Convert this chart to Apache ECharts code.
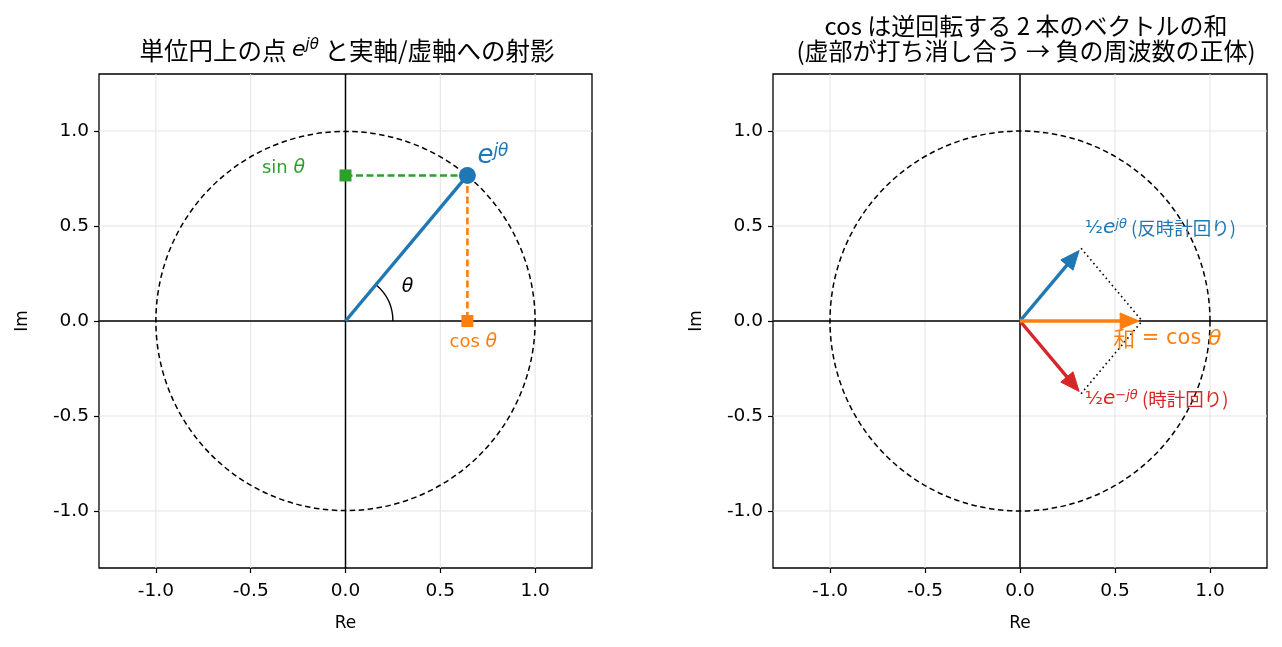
<!DOCTYPE html>
<html>
<head>
<meta charset="utf-8">
<script src="https://cdn.jsdelivr.net/npm/echarts@6/dist/echarts.min.js"></script>
<style>
html,body{margin:0;padding:0;background:#fff;}
#chart{width:1282px;height:647px;}
</style>
</head>
<body>
<div id="chart"></div>
<script>
// ---------- data ----------
const thetaDeg = 50;                       // angle
const tickValues = [-1.0, -0.5, 0.0, 0.5, 1.0];
const axisRange = [-1.3, 1.3];
const unitRadius = 1.0;
const arcRadius = 0.25;
const halfFactor = 0.5;

const theta = thetaDeg * Math.PI / 180;
const cosT = Math.cos(theta), sinT = Math.sin(theta);
const pointE = [cosT, sinT];
const projCos = [cosT, 0];
const projSin = [0, sinT];
const halfPlus = [halfFactor * cosT, halfFactor * sinT];
const halfMinus = [halfFactor * cosT, -halfFactor * sinT];
const sumVec = [cosT, 0];

// ---------- styles ----------
const C = {blue:'#1f77b4', orange:'#ff7f0e', green:'#2ca02c', red:'#d62728', k:'#000', grid:'#e3e3e3'};
const FONT = '"Noto Sans CJK JP", "Noto Sans", sans-serif';
const MATH = '"DejaVu Sans", sans-serif';
const LATIN = '"DejaVu Sans", sans-serif';

function axisPair(idx) {
  const common = {
    type:'value', min: axisRange[0], max: axisRange[1], gridIndex: idx,
    axisLine:{show:false, onZero:false},
    splitLine:{show:false},
    axisTick:{show:true, inside:false, length:5, customValues: tickValues, lineStyle:{color:'#000', width:1.2}},
    axisLabel:{show:true, customValues: tickValues, formatter: v => v.toFixed(1),
               fontFamily: LATIN, fontSize: 18.5, color:'#000', margin: 14}
  };
  return {
    x: Object.assign({}, common, {name:'Re', nameLocation:'middle', nameGap: 47,
        nameTextStyle:{fontFamily:LATIN, fontSize:17, color:'#000'}}),
    y: Object.assign({}, common, {name:'Im', nameLocation:'middle', nameGap: 68,
        nameTextStyle:{fontFamily:LATIN, fontSize:17, color:'#000'},
        axisLabel: Object.assign({}, common.axisLabel, {margin: 10})})
  };
}

// grid lines + zero lines
function gridLinesSeries(idx) {
  return {
    type:'custom', xAxisIndex: idx, yAxisIndex: idx, silent:true, z:1,
    data: tickValues.map(v => [v, v]),
    encode:{x:0, y:1},
    renderItem(params, api) {
      const cs = params.coordSys;
      const v = api.value(0);
      const p = api.coord([v, v]);
      const children = [
        {type:'line', shape:{x1:p[0], y1:cs.y, x2:p[0], y2:cs.y+cs.height}, style:{stroke:C.grid, lineWidth:1}},
        {type:'line', shape:{x1:cs.x, y1:p[1], x2:cs.x+cs.width, y2:p[1]}, style:{stroke:C.grid, lineWidth:1}}
      ];
      if (v === 0) {
        children.push({type:'line', z2:5, shape:{x1:p[0], y1:cs.y, x2:p[0], y2:cs.y+cs.height}, style:{stroke:'#000', lineWidth:1.5}});
        children.push({type:'line', z2:5, shape:{x1:cs.x, y1:p[1], x2:cs.x+cs.width, y2:p[1]}, style:{stroke:'#000', lineWidth:1.5}});
      }
      return {type:'group', children};
    }
  };
}

function circleSeries(idx) {
  return {
    type:'custom', xAxisIndex: idx, yAxisIndex: idx, silent:true, z:2,
    data: [[0, 0, unitRadius]],
    encode:{x:0, y:1},
    renderItem(params, api) {
      const c = api.coord([api.value(0), api.value(1)]);
      const r = api.size([api.value(2), 0])[0];
      return {type:'circle', shape:{cx:c[0], cy:c[1], r}, style:{fill:null, stroke:'#000', lineWidth:1.5, lineDash:[5.5,3.5]}};
    }
  };
}

function segSeries(idx, a, b, color, width, dash, z) {
  return {
    type:'line', xAxisIndex: idx, yAxisIndex: idx, silent:true, z: z || 3,
    data:[a, b], symbol:'none', animation:false,
    lineStyle:{color, width, type: dash || 'solid', opacity:1}
  };
}

function arrowSeries(idx, from, to, color, z) {
  return {
    type:'custom', xAxisIndex: idx, yAxisIndex: idx, silent:true, z: z || 4,
    data:[[from[0], from[1], to[0], to[1]]],
    encode:{x:[0,2], y:[1,3]},
    renderItem(params, api) {
      const p0 = api.coord([api.value(0), api.value(1)]);
      let p1 = api.coord([api.value(2), api.value(3)]);
      const dx = p1[0]-p0[0], dy = p1[1]-p0[1];
      const L = Math.hypot(dx, dy);
      const ux = dx/L, uy = dy/L;
      const shrink = 3, headL = 19, headW = 8;
      p1 = [p1[0]-ux*shrink, p1[1]-uy*shrink];
      const base = [p1[0]-ux*headL, p1[1]-uy*headL];
      const nx = -uy, ny = ux;
      return {type:'group', children:[
        {type:'line', shape:{x1:p0[0], y1:p0[1], x2:base[0]+ux*2, y2:base[1]+uy*2}, style:{stroke:color, lineWidth:3.4}},
        {type:'polygon', shape:{points:[p1, [base[0]+nx*headW, base[1]+ny*headW], [base[0]-nx*headW, base[1]-ny*headW]]},
         style:{fill:color, stroke:color, lineWidth:1, lineJoin:'miter'}}
      ]};
    }
  };
}

function textSeries(idx, anchor, offset, text, rich, fill, align, z) {
  return {
    type:'custom', xAxisIndex: idx, yAxisIndex: idx, silent:true, z: z || 6,
    data:[anchor], encode:{x:0, y:1},
    renderItem(params, api) {
      const p = api.coord([api.value(0), api.value(1)]);
      return {type:'text', x:p[0]+offset[0], y:p[1]+offset[1],
        style:{text, rich, fill, align: align || 'center', verticalAlign:'middle', font: '19px ' + FONT}};
    }
  };
}

const richMath = (color, size, supSize, mSize) => ({
  t:{fontFamily:FONT, fontSize:size, color},
  l:{fontFamily:LATIN, fontSize:size - 1, color},
  m:{fontFamily:MATH, fontSize:mSize || size, fontStyle:'italic', color},
  sup:{fontFamily:MATH, fontSize:supSize || Math.round(size*0.7), fontStyle:'italic', color, verticalAlign:'top'},
  h:{fontFamily:MATH, fontSize:size, color}
});

// ---------- axes ----------
const a0 = axisPair(0), a1 = axisPair(1);

const series = [];
// left panel
series.push(gridLinesSeries(0));
series.push(circleSeries(0));
series.push(segSeries(0, projSin, pointE, C.green, 2.6, [7,3.5], 3));
series.push(segSeries(0, pointE, projCos, C.orange, 2.6, [7,3.5], 3));
series.push(segSeries(0, [0,0], pointE, C.blue, 3.4, 'solid', 4));
series.push({
  type:'custom', xAxisIndex:0, yAxisIndex:0, silent:true, z:4,
  data:[[0,0,arcRadius]], encode:{x:0,y:1},
  renderItem(params, api){
    const c = api.coord([api.value(0), api.value(1)]);
    const r = api.size([api.value(2),0])[0];
    return {type:'arc', shape:{cx:c[0], cy:c[1], r, startAngle:-theta, endAngle:0, clockwise:true},
            style:{fill:null, stroke:'#000', lineWidth:1.4}};
  }
});
series.push({type:'scatter', xAxisIndex:0, yAxisIndex:0, silent:true, z:7, data:[projSin],
  symbol:'rect', symbolSize:12, itemStyle:{color:C.green, opacity:1}});
series.push({type:'scatter', xAxisIndex:0, yAxisIndex:0, silent:true, z:7, data:[projCos],
  symbol:'rect', symbolSize:12, itemStyle:{color:C.orange, opacity:1}});
series.push({type:'scatter', xAxisIndex:0, yAxisIndex:0, silent:true, z:7, data:[pointE],
  symbol:'circle', symbolSize:17, itemStyle:{color:C.blue, opacity:1}});
series.push(textSeries(0, pointE, [10,-19], '{m|e}{sup|jθ}', richMath(C.blue, 26, 17), C.blue, 'left'));
series.push(textSeries(0, projSin, [-62,-7], '{l|sin }{m|θ}', richMath(C.green, 19), C.green));
series.push(textSeries(0, projCos, [6,21], '{l|cos }{m|θ}', richMath(C.orange, 19), C.orange));
series.push(textSeries(0, [0,0], [62,-34], '{m|θ}', richMath('#000', 19), '#000'));

// right panel
series.push(gridLinesSeries(1));
series.push(circleSeries(1));
series.push(segSeries(1, halfPlus, sumVec, '#000', 1.6, [1.6,3.2], 3));
series.push(segSeries(1, halfMinus, sumVec, '#000', 1.6, [1.6,3.2], 3));
series.push(arrowSeries(1, [0,0], halfPlus, C.blue, 4));
series.push(arrowSeries(1, [0,0], halfMinus, C.red, 4));
series.push(arrowSeries(1, [0,0], sumVec, C.orange, 5));
series.push(textSeries(1, halfPlus, [4,-20], '{h|½}{m|e}{sup|jθ}{t| (反時計回り)}', richMath(C.blue, 18.5, 13, 20), C.blue, 'left'));
series.push(textSeries(1, halfMinus, [4,5], '{h|½}{m|e}{sup|−jθ}{t| (時計回り)}', richMath(C.red, 18.5, 13, 20), C.red, 'left'));
series.push(textSeries(1, sumVec, [-29,18], '{t|和}{l| = cos }{m|θ}', richMath(C.orange, 22), C.orange, 'left'));

const titleRich = {
  t:{fontFamily:FONT, fontSize:24.5, color:'#000', fontWeight:'normal'},
  m:{fontFamily:MATH, fontSize:22, fontStyle:'italic', color:'#000', fontWeight:'normal'},
  sup:{fontFamily:MATH, fontSize:15, fontStyle:'italic', color:'#000', verticalAlign:'top', fontWeight:'normal'}
};

const option = {
  backgroundColor:'#fff',
  animation:false,
  title:[
    {text:'{t|単位円上の点 }{m|e}{sup|jθ}{t| と実軸/虚軸への射影}', left:342, top:33, textAlign:'center',
     textStyle:{rich:titleRich, fontWeight:'normal'}},
    {text:'cos は逆回転する 2 本のベクトルの和\n(虚部が打ち消し合う → 負の周波数の正体)', left:1021, top:8, textAlign:'center',
     textStyle:{fontFamily:FONT, fontSize:24, color:'#000', fontWeight:'normal', lineHeight:25}}
  ],
  grid:[
    {left:99, top:74, width:493, height:494, show:true, borderColor:'#000', borderWidth:1.3, backgroundColor:'transparent'},
    {left:773, top:74, width:494, height:494, show:true, borderColor:'#000', borderWidth:1.3, backgroundColor:'transparent'}
  ],
  xAxis:[a0.x, a1.x],
  yAxis:[a0.y, a1.y],
  series
};

const chart = echarts.init(document.getElementById('chart'));
chart.setOption(option);
</script>
</body>
</html>
